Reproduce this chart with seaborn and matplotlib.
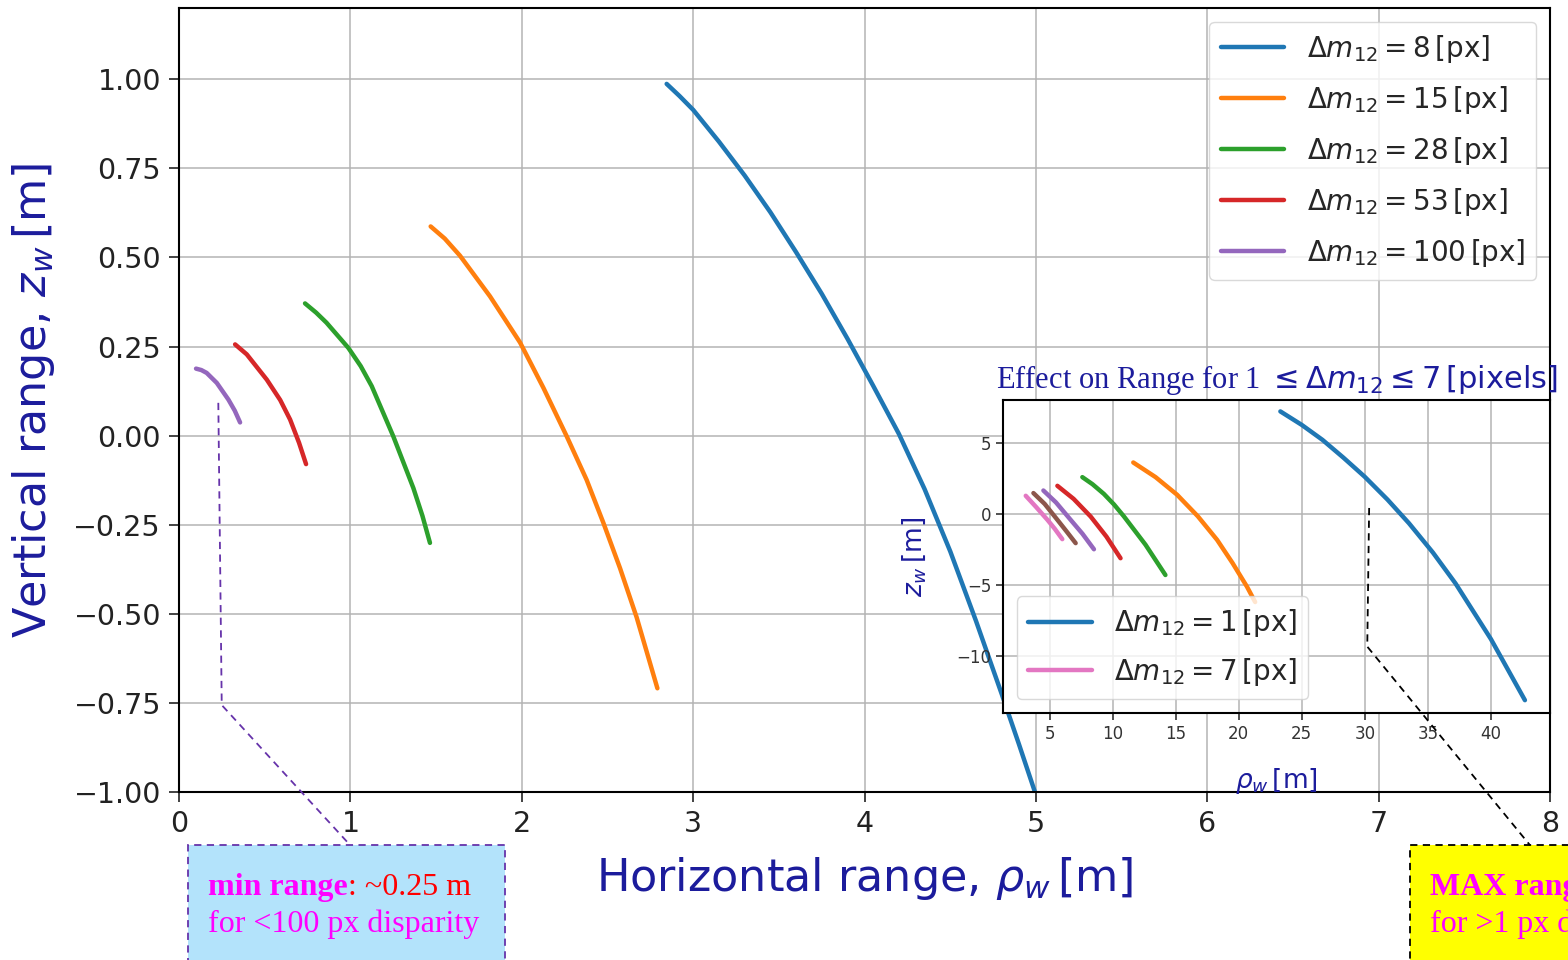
"""
Rango horizontal vs vertical para distintas disparidades (Δm12),
con recuadro para 1 <= Δm12 <= 7 px.
"""

import matplotlib
matplotlib.use("Agg")
import matplotlib.pyplot as plt
import seaborn as sns
from matplotlib.lines import Line2D
from matplotlib.patches import Rectangle

# --- curvas principales (rho_w, z_w) [m] ---
disp_main = [8, 15, 28, 53, 100]
rho_8 = [2.845, 2.92, 3.0, 3.15, 3.30, 3.45, 3.60, 3.75, 3.90, 4.05, 4.20, 4.35, 4.50, 4.65, 4.80, 4.90, 4.994]
z_8 = [0.987, 0.953, 0.914, 0.825, 0.73, 0.627, 0.515, 0.398, 0.272, 0.14, 0.005, -0.15, -0.325, -0.52, -0.725, -0.865, -1.0]
rho_15 = [1.468, 1.55, 1.639, 1.814, 1.99, 2.126, 2.262, 2.378, 2.476, 2.573, 2.67, 2.791]
z_15 = [0.587, 0.553, 0.505, 0.391, 0.261, 0.134, -0.002, -0.124, -0.245, -0.372, -0.51, -0.709]
rho_28 = [0.735, 0.80, 0.86, 0.988, 1.06, 1.124, 1.25, 1.367, 1.42, 1.464]
z_28 = [0.371, 0.345, 0.317, 0.246, 0.195, 0.139, -0.002, -0.147, -0.225, -0.301]
rho_53 = [0.327, 0.395, 0.512, 0.59, 0.648, 0.70, 0.741]
z_53 = [0.256, 0.228, 0.157, 0.10, 0.045, -0.02, -0.08]
rho_100 = [0.099, 0.13, 0.161, 0.22, 0.288, 0.325, 0.356]
z_100 = [0.188, 0.184, 0.176, 0.148, 0.101, 0.07, 0.037]

# --- recuadro: disparidades de 1 a 7 px ---
disp_inset = [1, 2, 3, 4, 5, 6, 7]
rho_1 = [23.3, 25.0, 26.64, 28.3, 30.0, 31.8, 33.5, 35.4, 37.2, 40.0, 42.7]
z_1 = [7.2, 6.25, 5.2, 3.95, 2.6, 1.0, -0.66, -2.72, -4.9, -8.8, -13.1]
rho_2 = [11.63, 13.4, 15.11, 16.75, 18.28, 19.5, 20.65, 21.3]
z_2 = [3.61, 2.58, 1.34, -0.17, -1.83, -3.45, -5.12, -6.2]
rho_3 = [7.59, 8.4, 9.3, 10.1, 10.88, 12.6, 14.18]
z_3 = [2.58, 2.08, 1.40, 0.66, -0.17, -2.17, -4.30]
rho_4 = [5.61, 6.9, 8.25, 9.5, 10.62]
z_4 = [1.97, 1.05, -0.19, -1.6, -3.12]
rho_5 = [4.5, 5.5, 6.66, 7.6, 8.51]
z_5 = [1.64, 0.8, -0.42, -1.4, -2.49]
rho_6 = [3.71, 4.6, 5.61, 6.35, 7.06]
z_6 = [1.46, 0.7, -0.42, -1.25, -2.06]
rho_7 = [3.1, 3.9, 4.82, 5.4, 6.0]
z_7 = [1.27, 0.5, -0.42, -1.05, -1.78]

main_curves = [(rho_8, z_8), (rho_15, z_15), (rho_28, z_28), (rho_53, z_53), (rho_100, z_100)]
inset_curves = [(rho_1, z_1), (rho_2, z_2), (rho_3, z_3), (rho_4, z_4),
                (rho_5, z_5), (rho_6, z_6), (rho_7, z_7)]

NAVY = "#1c1c9c"
MAGENTA = "#ff00ff"
SERIF = "Liberation Serif"

sns.set_style("ticks", {"axes.grid": True, "grid.color": "#b4b4b4",
                        "axes.edgecolor": "black", "xtick.color": "black",
                        "ytick.color": "black"})
plt.rcParams["font.family"] = ["DejaVu Sans"]
plt.rcParams["mathtext.fontset"] = "dejavusans"
plt.rcParams["axes.unicode_minus"] = True

pal = sns.color_palette("tab10")

fig = plt.figure(figsize=(15.68, 9.6), dpi=100)
ax = fig.add_axes([0.1142, 0.175, 0.8744, 0.8167])

for i, ((r, z), d) in enumerate(zip(main_curves, disp_main)):
    sns.lineplot(x=r, y=z, ax=ax, color=pal[i], lw=3.2, sort=False, estimator=None,
                 label=rf"$\Delta m_{{12}} = {d}\,[\mathrm{{px}}]$")

ax.set_xlim(0, 8)
ax.set_ylim(-1.0, 1.2)
ax.set_xticks(range(0, 9))
ax.set_yticks([-1.0, -0.75, -0.5, -0.25, 0.0, 0.25, 0.5, 0.75, 1.0])
ax.tick_params(labelsize=20.5, length=7, width=1.2, pad=6, colors="#222222")
for s in ax.spines.values():
    s.set_linewidth(1.5)
    s.set_color("black")
ax.grid(True, color="#b4b4b4", lw=1.1)
ax.set_xlabel(r"Horizontal range, $\rho_w\,[\mathrm{m}]$", fontsize=32, color=NAVY, labelpad=12)
ax.set_ylabel(r"Vertical range, $z_w\,[\mathrm{m}]$", fontsize=32, color=NAVY, labelpad=12)
ax.legend(loc="upper right", fontsize=20, handlelength=2.3, labelspacing=0.68,
          framealpha=0.8, edgecolor="#d0d0d0", fancybox=True)

# --- recuadro ---
axi = fig.add_axes([0.6397, 0.2573, 0.3489, 0.326])
axi.set_facecolor("white")
for i, ((r, z), d) in enumerate(zip(inset_curves, disp_inset)):
    lab = rf"$\Delta m_{{12}} = {d}\,[\mathrm{{px}}]$" if d in (1, 7) else None
    sns.lineplot(x=r, y=z, ax=axi, color=pal[i], lw=3.2, sort=False, estimator=None, label=lab)
axi.set_xlim(1.3, 44.7)
axi.set_ylim(-14.0, 8.0)
axi.set_xticks([5, 10, 15, 20, 25, 30, 35, 40])
axi.set_yticks([-10, -5, 0, 5])
axi.tick_params(labelsize=12, length=5, width=1.2, colors="#333333")
for s in axi.spines.values():
    s.set_linewidth(1.5)
    s.set_color("black")
axi.grid(True, color="#b4b4b4", lw=1.1)
axi.set_xlabel(r"$\rho_w\,[\mathrm{m}]$", fontsize=19, color=NAVY, labelpad=17)
axi.set_ylabel(r"$z_w\,[\mathrm{m}]$", fontsize=19, color=NAVY, labelpad=20)
axi.set_title(r"Effect on Range for 1 $\leq \Delta m_{12} \leq 7\,[\mathrm{pixels}]$",
              fontsize=22, color=NAVY, family=SERIF, pad=9)
axi.legend(loc="lower left", fontsize=20, handlelength=2.3, labelspacing=0.6,
           framealpha=0.8, edgecolor="#d0d0d0", fancybox=True)

# --- anotaciones (líneas guía y recuadros de texto) ---
fig.add_artist(Line2D([0.229, 0.249, 0.998], [0.092, -0.756, -1.149],
                      transform=ax.transData, ls=(0, (4, 3)), color="#6633aa", lw=1.3))
fig.add_artist(Line2D([6.944, 6.933, 7.882], [-0.203, -0.592, -1.149],
                      transform=ax.transData, ls=(0, (4, 3)), color="black", lw=1.3))

fig.add_artist(Rectangle((188 / 1568, -0.05), (505 - 188) / 1568, 0.05 + 1 - 845 / 960,
                         transform=fig.transFigure, facecolor="#b3e3fb",
                         edgecolor="#6633aa", ls=(0, (4, 3)), lw=1.3))
fig.add_artist(Rectangle((1410 / 1568, -0.05), 0.2, 0.05 + 1 - 845 / 960,
                         transform=fig.transFigure, facecolor="#ffff00",
                         edgecolor="black", ls=(0, (4, 3)), lw=1.3))

y1 = 1 - 895 / 960
y2 = 1 - 932 / 960
t1 = fig.text(208 / 1568, y1, "min range", fontsize=23, family=SERIF,
              weight="bold", color=MAGENTA, va="baseline")
fig.text(208 / 1568, y2, "for <100 px disparity", fontsize=23, family=SERIF,
         color=MAGENTA, va="baseline")
t2 = fig.text(1430 / 1568, y1, "MAX range", fontsize=23, family=SERIF,
              weight="bold", color=MAGENTA, va="baseline")
fig.text(1430 / 1568, y2, "for >1 px disparity", fontsize=23, family=SERIF,
         color=MAGENTA, va="baseline")

fig.canvas.draw()
rend = fig.canvas.get_renderer()
for t, s in [(t1, ": ~0.25 m"), (t2, ": ~43 m")]:
    bb = t.get_window_extent(renderer=rend)
    fig.text(bb.x1 / fig.bbox.width, y1, s, fontsize=23, family=SERIF,
             color="red", va="baseline")

fig.savefig("out.png", dpi=100)
